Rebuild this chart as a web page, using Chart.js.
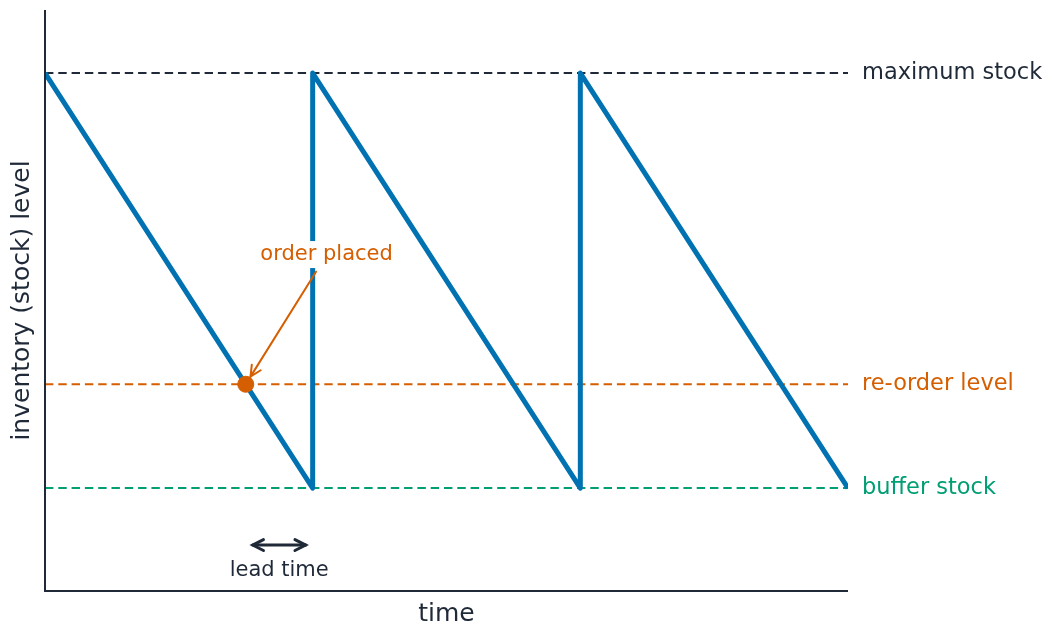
<!DOCTYPE html>
<html>
<head>
<meta charset="utf-8">
<script src="https://cdn.jsdelivr.net/npm/chart.js@4/dist/chart.umd.min.js"></script>
<style>
  html, body { margin: 0; padding: 0; background: #fff; }
  canvas { display: block; }
</style>
</head>
<body>
<canvas id="chart" width="1046" height="626"></canvas>
<script>
// sawtooth inventory profile (time in cycles, stock in %)
const sawX = [0, 1, 1, 2, 2, 3];
const sawY = [100, 20, 100, 20, 100, 20];

// horizontal reference levels
const levelNames = ["maximum stock", "re-order level", "buffer stock"];
const levelValues = [100, 40, 20];

// order placed marker + lead time span
const orderPoint = [0.75, 40];
const orderLabelPos = [1.052, 65.1];
const orderArrowTail = [1.0125, 61.7];
const leadSpan = [0.75, 1.0];
const leadArrowY = 9;
const leadLabelY = 4.1;

const xRange = [0, 3];
const yRange = [0.15, 112.15];

const DARK = "#1f2937";
const BLUE = "#0072B2";
const ORANGE = "#D55E00";
const GREEN = "#009E73";
const levelColors = [DARK, ORANGE, GREEN];
const FONT = "'DejaVu Sans', 'Liberation Sans', sans-serif";

const levelSets = levelValues.map((v, i) => ({
    data: [{ x: xRange[0], y: v }, { x: xRange[1], y: v }],
    borderColor: levelColors[i],
    borderWidth: 2,
    borderDash: [8.4, 4.9],
    pointRadius: 0,
    order: 3,
}));

function arrowHead(ctx, tipX, tipY, fromX, fromY, len, angle) {
    const a = Math.atan2(fromY - tipY, fromX - tipX);
    ctx.beginPath();
    ctx.moveTo(tipX + len * Math.cos(a + angle), tipY + len * Math.sin(a + angle));
    ctx.lineTo(tipX, tipY);
    ctx.lineTo(tipX + len * Math.cos(a - angle), tipY + len * Math.sin(a - angle));
    ctx.stroke();
}

const decorations = {
    id: "decorations",
    afterDatasetsDraw(chart) {
        const { ctx, chartArea: ca, scales: { x, y } } = chart;
        ctx.save();

        // order placed label with white box (cuts the refill line)
        ctx.font = "21px " + FONT;
        ctx.textAlign = "center";
        ctx.textBaseline = "middle";
        const lx = x.getPixelForValue(orderLabelPos[0]);
        const ly = y.getPixelForValue(orderLabelPos[1]);
        const w = ctx.measureText("order placed").width;
        ctx.fillStyle = "#fff";
        ctx.fillRect(lx - w / 2 - 4, ly - 13, w + 8, 27);
        ctx.fillStyle = ORANGE;
        ctx.fillText("order placed", lx, ly);

        // arrow to the order point
        const tx = x.getPixelForValue(orderArrowTail[0]);
        const ty = y.getPixelForValue(orderArrowTail[1]);
        const px = x.getPixelForValue(orderPoint[0]);
        const py = y.getPixelForValue(orderPoint[1]);
        const d = Math.hypot(tx - px, ty - py);
        const hx = px + (tx - px) * 9 / d;
        const hy = py + (ty - py) * 9 / d;
        ctx.strokeStyle = ORANGE;
        ctx.lineWidth = 2;
        ctx.lineCap = "round";
        ctx.beginPath();
        ctx.moveTo(tx, ty);
        ctx.lineTo(hx, hy);
        ctx.stroke();
        arrowHead(ctx, hx, hy, tx, ty, 12, 0.45);

        // lead time double arrow
        const ax0 = x.getPixelForValue(leadSpan[0]) + 7;
        const ax1 = x.getPixelForValue(leadSpan[1]) - 7;
        const ay = y.getPixelForValue(leadArrowY);
        ctx.strokeStyle = DARK;
        ctx.lineWidth = 3;
        ctx.beginPath();
        ctx.moveTo(ax0, ay);
        ctx.lineTo(ax1, ay);
        ctx.stroke();
        arrowHead(ctx, ax0, ay, ax1, ay, 12, 0.47);
        arrowHead(ctx, ax1, ay, ax0, ay, 12, 0.47);
        ctx.fillStyle = DARK;
        ctx.font = "21px " + FONT;
        ctx.fillText("lead time", (ax0 + ax1) / 2, y.getPixelForValue(leadLabelY));

        // level labels at the right
        ctx.textAlign = "left";
        ctx.font = "22.5px " + FONT;
        levelValues.forEach((v, i) => {
            ctx.fillStyle = levelColors[i];
            ctx.fillText(levelNames[i], ca.right + 14, y.getPixelForValue(v));
        });

        // axes spines
        ctx.strokeStyle = DARK;
        ctx.lineWidth = 2;
        ctx.lineCap = "butt";
        ctx.beginPath();
        ctx.moveTo(ca.left, ca.top);
        ctx.lineTo(ca.left, ca.bottom);
        ctx.lineTo(ca.right, ca.bottom);
        ctx.stroke();

        // axis titles
        ctx.fillStyle = DARK;
        ctx.font = "25px " + FONT;
        ctx.textAlign = "center";
        ctx.fillText("time", (ca.left + ca.right) / 2, ca.bottom + 23);
        ctx.translate(22, (ca.top + ca.bottom) / 2);
        ctx.rotate(-Math.PI / 2);
        ctx.fillText("inventory (stock) level", 0, 0);
        ctx.restore();
    },
};

new Chart(document.getElementById("chart"), {
    type: "line",
    data: {
        datasets: [
            {
                type: "scatter",
                data: [{ x: orderPoint[0], y: orderPoint[1] }],
                backgroundColor: ORANGE,
                borderColor: ORANGE,
                pointRadius: 8,
                order: 1,
            },
            {
                data: sawX.map((v, i) => ({ x: v, y: sawY[i] })),
                borderColor: BLUE,
                borderWidth: 5,
                borderJoinStyle: "round",
                pointRadius: 0,
                tension: 0,
                order: 2,
            },
            ...levelSets,
        ],
    },
    options: {
        responsive: false,
        animation: false,
        devicePixelRatio: 1,
        layout: { padding: { left: 45, right: 198, top: 10, bottom: 35 } },
        plugins: { legend: { display: false }, tooltip: { enabled: false } },
        scales: {
            x: { type: "linear", min: xRange[0], max: xRange[1], display: false },
            y: { type: "linear", min: yRange[0], max: yRange[1], display: false },
        },
    },
    plugins: [decorations],
});
</script>
</body>
</html>
